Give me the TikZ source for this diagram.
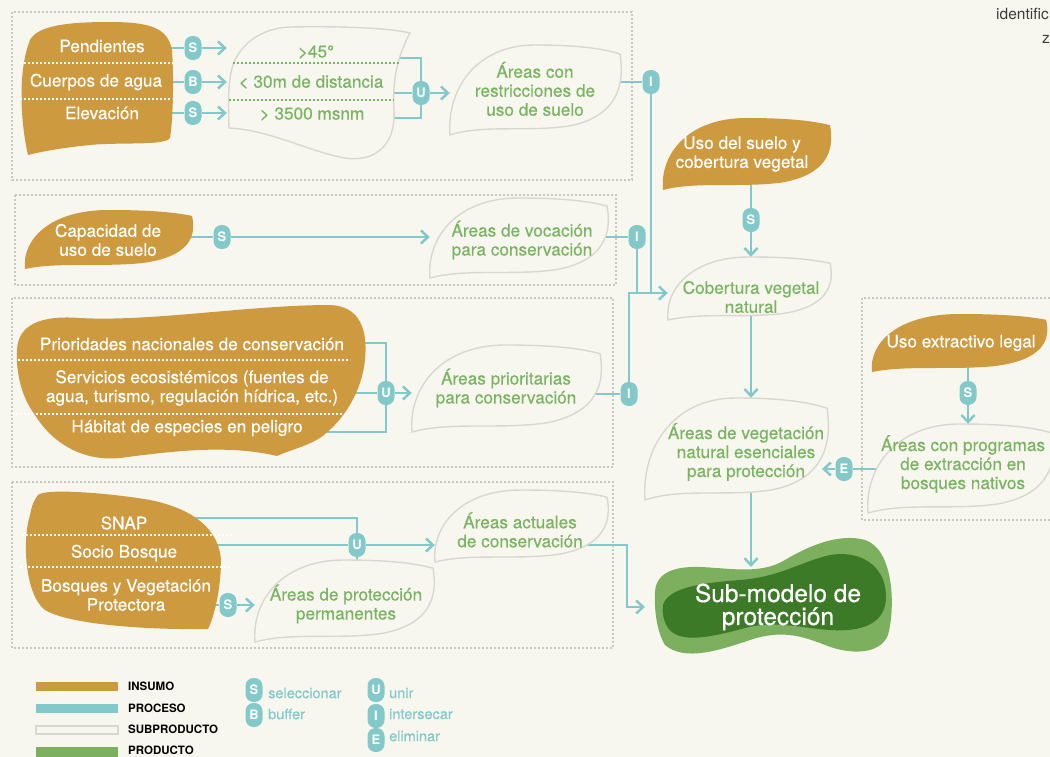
\documentclass[tikz,border=0pt]{standalone}
\usepackage{fontspec}
\setmainfont{TeX Gyre Heros}
\newfontfamily\medfont{TeX Gyre Heros}[FakeBold=0.35]
\usetikzlibrary{arrows.meta,fit}
\pgfdeclarelayer{bg}
\pgfdeclarelayer{lines}
\pgfsetlayers{bg,lines,main}
\newcommand{\leafnode}[9]{%
\pgfmathsetmacro{\leafw}{#5-#3}%
\pgfmathsetmacro{\leafh}{#6-#4}%
\begin{scope}[shift={(#3,#4)},x=\leafw pt,y=-\leafh pt]
\draw[#1] (0,1) .. controls (-0.02,0.5) and (0.15,0) .. (0.5,0) .. controls (0.75,0) and (0.9,0.04) .. (1,0.1) .. controls (1.03,0.45) and (0.98,0.8) .. (0.7,0.9) .. controls (0.45,0.97) and (0.2,0.88) .. cycle;
\end{scope}
\node[box,fit={(#3,#4) (#5,#6)}] (#2) {};
\node[#1txt] (#2t) at (#7,#8) {#9};
}
\begin{document}
\begin{tikzpicture}[x=1pt,y=-1pt,
  box/.style={inner sep=0pt},
  ins/.style={fill=insumocolor,draw=none},
  instxt/.style={text=white,align=center,font=\medfont\fontsize{17.2}{19}\selectfont},
  sub/.style={fill=bgcolor,draw=subcolor,line width=1.4pt},
  subtxt/.style={text=greentext,align=center,font=\medfont\fontsize{17.2}{19}\selectfont},
  prodtxt/.style={text=white,align=center,font=\medfont\fontsize{24.5}{23}\selectfont},
  bub/.style={fill=procesocolor,rounded corners=8pt,minimum width=17pt,minimum height=24pt,inner sep=0pt,text=white,font=\fontsize{13}{13}\selectfont\bfseries},
  conn/.style={draw=procesocolor,line width=2.5pt},
  flow/.style={conn,-{Straight Barb[length=7pt,width=13pt]}},
  dotbox/.style={draw=boxcolor,line width=1.6pt,dash pattern=on 2pt off 2pt},
  wsep/.style={draw=white,line width=1.6pt,dash pattern=on 2pt off 2pt},
  gsep/.style={draw=greentext,line width=1.6pt,dash pattern=on 2pt off 2pt},
  legtxt/.style={anchor=west,inner sep=0pt,text=black,font=\fontsize{11.5}{12}\selectfont\bfseries},
  optxt/.style={anchor=west,inner sep=0pt,text=procesocolor,font=\medfont\fontsize{14.5}{15}\selectfont}]
\definecolor{bgcolor}{RGB}{248,247,239}
\definecolor{insumocolor}{RGB}{206,154,63}
\definecolor{procesocolor}{RGB}{132,201,201}
\definecolor{subcolor}{RGB}{216,216,206}
\definecolor{greentext}{RGB}{122,180,98}
\definecolor{prodlight}{RGB}{124,175,94}
\definecolor{proddark}{RGB}{61,122,40}
\definecolor{boxcolor}{RGB}{200,200,194}
\definecolor{darktext}{RGB}{60,60,60}
\useasboundingbox (0,0) rectangle (1050,757);
\begin{pgfonlayer}{bg}
\fill[bgcolor] (0,0) rectangle (1050,757);
\draw[dotbox] (12,12) rectangle (632,180);
\draw[dotbox] (15,195) rectangle (616,285);
\draw[dotbox] (12,298) rectangle (613,467);
\draw[dotbox] (12,482) rectangle (613,648);
\draw[dotbox] (862,298) rectangle (1070,520);
\end{pgfonlayer}
\node[anchor=west,inner sep=0pt,text=darktext,font=\fontsize{15.5}{15}\selectfont] (idt) at (996,14) {identific};
\node[anchor=west,inner sep=0pt,text=darktext,font=\fontsize{15.5}{15}\selectfont] (idz) at (1042,39) {z};
\fill[insumocolor] (28,155) .. controls (20,120) and (18,70) .. (30,40) .. controls (38,25) and (70,22) .. (110,22) .. controls (150,22) and (168,28) .. (172,50) .. controls (174,80) and (173,120) .. (170,138) .. controls (165,146) and (120,142) .. (90,145) .. controls (60,148) and (40,152) .. cycle;
\node[box,fit={(20,22) (174,155)}] (geo) {};
\draw[wsep] (20,63) -- (173,63);
\draw[wsep] (20,99) -- (172,99);
\node[instxt] (pend) at (102,46) {Pendientes};
\node[instxt] (cuer) at (96,82) {Cuerpos de agua};
\node[instxt] (elev) at (102,113) {Elevación};
\node[bub] (s1) at (193,48) {S};
\node[bub] (b1) at (193,82) {B};
\node[bub] (s2) at (193,113) {S};
\draw[sub] (229,128) .. controls (228,100) and (228,75) .. (235,60) .. controls (245,40) and (265,28) .. (290,27) .. controls (340,26) and (390,28) .. (410,33) .. controls (398,55) and (392,80) .. (394,110) .. controls (396,150) and (370,162) .. (345,158) .. controls (310,152) and (270,130) .. cycle;
\node[box,fit={(227,27) (397,160)}] (rng) {};
\draw[gsep] (233,63) -- (399,63);
\draw[gsep] (229,100) -- (394,100);
\node[subtxt] (r45) at (316,52) {>45°};
\node[subtxt] (r30) at (311,82) {< 30m de distancia};
\node[subtxt] (r35) at (312,114) {> 3500 msnm};
\node[bub] (u1) at (421,93) {U};
\leafnode{sub}{restr}{450}{45}{620}{135}{535}{89}{Áreas con\\restricciones de\\uso de suelo}
\node[bub] (i1) at (651,82) {I};
\leafnode{ins}{uso}{663}{118}{830}{190}{742}{154}{Uso del suelo y\\cobertura vegetal}
\node[bub] (s3) at (751,220) {S};
\leafnode{sub}{cob}{668}{257}{830}{320}{751}{297}{Cobertura vegetal\\natural}
\leafnode{sub}{veg}{645}{398}{827}{500}{746}{452}{Áreas de vegetación\\natural esenciales\\para protección}
\leafnode{ins}{cap}{25}{210}{192}{269}{108}{240}{Capacidad de\\uso de suelo}
\node[bub] (s5) at (222,237) {S};
\leafnode{sub}{voc}{430}{198}{607}{278}{522}{240}{Áreas de vocación\\para conservación}
\node[bub] (i2) at (637,237) {I};
\coordinate (jn) at (629,293);
\fill[insumocolor] (17,350) .. controls (18,325) and (40,315) .. (80,318) .. controls (150,322) and (250,305) .. (330,305) .. controls (360,306) and (368,330) .. (365,360) .. controls (362,390) and (345,420) .. (320,438) .. controls (305,447) and (290,450) .. (277,456) .. controls (230,445) and (180,450) .. (120,458) .. controls (80,462) and (50,440) .. (35,415) .. controls (20,395) and (16,370) .. cycle;
\node[box,fit={(15,303) (368,462)}] (pri) {};
\draw[wsep] (18,360) -- (350,360);
\draw[wsep] (12,414) -- (343,414);
\node[instxt] (prio1) at (192,344) {Prioridades nacionales de conservación};
\node[instxt] (serv) at (192,388) {Servicios ecosistémicos (fuentes de\\agua, turismo, regulación hídrica, etc.)};
\node[instxt] (habi) at (187,428) {Hábitat de especies en peligro};
\node[bub] (u2) at (386,393) {U};
\leafnode{sub}{prio}{412}{345}{600}{432}{506}{388}{Áreas prioritarias\\para conservación}
\node[bub] (i3) at (629,394) {I};
\fill[insumocolor] (38,495) .. controls (45,488) and (110,493) .. (150,500) .. controls (200,510) and (222,535) .. (221,565) .. controls (220,590) and (215,615) .. (208,629) .. controls (150,630) and (70,625) .. (45,610) .. controls (25,595) and (22,540) .. (30,515) .. controls (32,505) and (34,500) .. cycle;
\node[box,fit={(22,488) (222,630)}] (snap) {};
\draw[wsep] (22,535) -- (232,535);
\draw[wsep] (20,567) -- (232,567);
\node[instxt] (snapt) at (124,523) {SNAP};
\node[instxt] (socio) at (124,553) {Socio Bosque};
\node[instxt] (bosq) at (126,595) {Bosques y Vegetación\\Protectora};
\node[bub] (u3) at (357,545) {U};
\node[bub] (s6) at (228,605) {S};
\leafnode{sub}{act}{435}{490}{607}{562}{520}{530}{Áreas actuales\\de conservación}
\leafnode{sub}{perm}{255}{560}{433}{642}{346}{604}{Áreas de protección\\permanentes}
\fill[prodlight] (655,592) .. controls (656,575) and (670,566) .. (700,567) .. controls (730,568) and (760,575) .. (785,560) .. controls (810,545) and (840,533) .. (865,540) .. controls (895,550) and (895,610) .. (888,635) .. controls (880,655) and (850,655) .. (825,645) .. controls (800,635) and (780,630) .. (750,640) .. controls (720,650) and (685,662) .. (665,645) .. controls (657,632) and (654,610) .. cycle;
\fill[proddark] (663,605) .. controls (668,588) and (700,583) .. (740,580) .. controls (780,577) and (800,562) .. (830,555) .. controls (860,550) and (885,565) .. (886,595) .. controls (887,625) and (860,632) .. (830,630) .. controls (800,628) and (775,620) .. (745,628) .. controls (715,636) and (680,645) .. (668,628) .. controls (663,620) and (662,612) .. cycle;
\node[box,fit={(655,535) (893,657)}] (prod) {};
\node[prodtxt] (prodt) at (778,607) {Sub-modelo de\\protección};
\coordinate (pin) at (751,567);
\coordinate (pin2) at (645,607);
\coordinate (bend) at (627,580);
\leafnode{ins}{ext}{872}{314}{1046}{372}{961}{343}{Uso extractivo legal}
\node[bub] (s4) at (968,393) {S};
\leafnode{sub}{prog}{868}{424}{1052}{513}{963}{464}{Áreas con programas\\de extracción en\\bosques nativos}
\node[bub] (e1) at (844,469) {E};
\coordinate (vegin) at (822,469);
\begin{pgfonlayer}{lines}
\draw[flow] (geo.center |- s1) -- (s1) -- (s1 -| rng.west);
\draw[flow] (geo.center |- b1) -- (b1) -- (b1 -| rng.west);
\draw[flow] (geo.center |- s2) -- (s2) -- (s2 -| rng.west);
\draw[conn] (rng.center |- 0,58) -| (u1);
\draw[conn] (rng.center |- u1) -- (u1);
\draw[conn] (rng.center |- 0,118) -| (u1);
\draw[flow] (u1) -- (u1 -| restr.west);
\draw[conn] (restr.center |- i1) -- (i1) -- (i1 |- jn);
\draw[flow] (cap.center |- s5) -- (s5) -- (s5 -| voc.west);
\draw[conn] (voc.center |- i2) -- (i2) -- (i2 |- jn);
\draw[conn] (pri.center |- 0,343) -| (u2);
\draw[conn] (pri.center |- u2) -- (u2);
\draw[conn] (pri.center |- 0,432) -| (u2);
\draw[flow] (u2) -- (u2 -| prio.west);
\draw[flow] (prio.center |- i3) -- (i3) |- (cob.west |- jn);
\draw[conn] (uso.center -| s3) -- (s3);
\draw[flow] (s3) -- (s3 |- cob.north);
\draw[flow] (cob.center -| s3) -- (s3 |- veg.north);
\draw[flow] (veg.center -| s3) -- (pin);
\draw[conn] (ext.center -| s4) -- (s4);
\draw[flow] (s4) -- (s4 |- prog.north);
\draw[conn] (prog.center |- e1) -- (e1);
\draw[flow] (e1) -- (vegin);
\draw[conn] (snap.center |- 0,518) -| (u3);
\draw[flow] (snap.center |- u3) -- (u3) -- (u3 -| act.west);
\draw[conn] (u3) -- (u3 |- perm.center);
\draw[flow] (snap.center |- s6) -- (s6) -- (s6 -| perm.west);
\draw[flow] (act.center |- u3) -| (bend) |- (pin2);
\end{pgfonlayer}
\fill[insumocolor] (36,682) rectangle (118,691);
\fill[procesocolor] (36,704) rectangle (118,713);
\draw[subcolor,line width=1.4pt] (36,726) rectangle (118,734);
\fill[prodlight] (36,747) rectangle (118,757);
\node[legtxt] (lins) at (128,686) {INSUMO};
\node[legtxt] (lproc) at (128,708) {PROCESO};
\node[legtxt] (lsub) at (128,729) {SUBPRODUCTO};
\node[legtxt] (lprod) at (128,750) {PRODUCTO};
\node[bub] (ls) at (254,690) {S};
\node[bub] (lb) at (254,715) {B};
\node[bub] (lu) at (376,690) {U};
\node[bub] (li) at (376,716) {I};
\node[bub] (le) at (376,740) {E};
\node[optxt] (lsel) at (268,693) {seleccionar};
\node[optxt] (lbuf) at (268,714) {buffer};
\node[optxt] (luni) at (389,693) {unir};
\node[optxt] (lint) at (389,714) {intersecar};
\node[optxt] (lelim) at (389,736) {eliminar};
\end{tikzpicture}
\end{document}
